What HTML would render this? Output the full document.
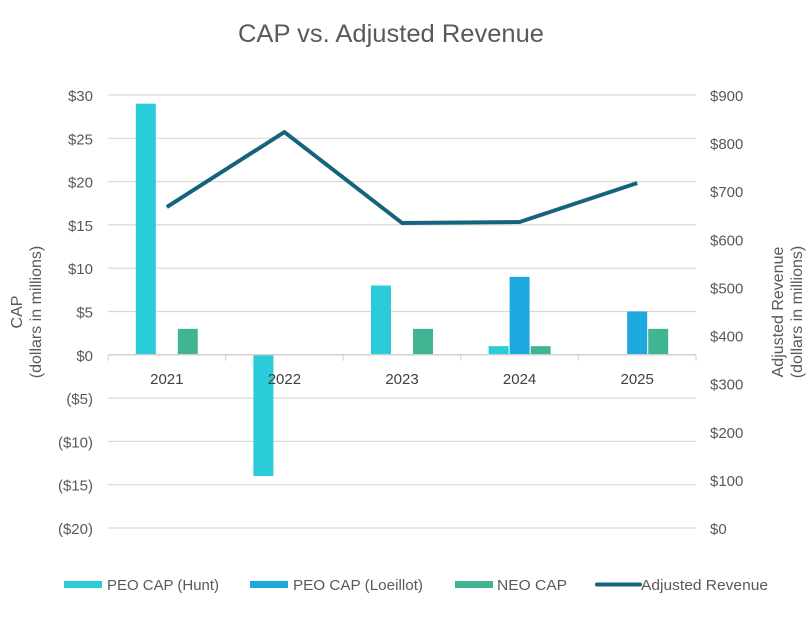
<!DOCTYPE html>
<html><head><meta charset="utf-8"><style>
body{margin:0;background:#fff;width:808px;height:621px;overflow:hidden;font-family:"Liberation Sans",sans-serif}
</style></head><body>
<svg id="chart" width="808" height="621" xmlns="http://www.w3.org/2000/svg" font-family="Liberation Sans, sans-serif">
<text x="391" y="42" text-anchor="middle" font-size="25" fill="#595959" textLength="306" lengthAdjust="spacingAndGlyphs">CAP vs. Adjusted Revenue</text>
<g id="grid"></g><g id="bars"></g><g id="line"></g><g id="axes"></g>
<text transform="translate(22,312) rotate(-90)" text-anchor="middle" font-size="16" fill="#595959"><tspan x="0" dy="0">CAP</tspan><tspan x="0" dy="19">(dollars in millions)</tspan></text>
<text transform="translate(783,312) rotate(-90)" text-anchor="middle" font-size="16" fill="#595959"><tspan x="0" dy="0">Adjusted Revenue</tspan><tspan x="0" dy="19">(dollars in millions)</tspan></text>
<g font-size="15" fill="#595959">
<rect x="64" y="581" width="38" height="7" fill="#29CCD8"/><text x="107" y="590" textLength="112" lengthAdjust="spacingAndGlyphs">PEO CAP (Hunt)</text>
<rect x="250" y="581" width="38" height="7" fill="#1DA8E0"/><text x="293" y="590" textLength="130" lengthAdjust="spacingAndGlyphs">PEO CAP (Loeillot)</text>
<rect x="455" y="581" width="38" height="7" fill="#41B593"/><text x="497" y="590" textLength="70" lengthAdjust="spacingAndGlyphs">NEO CAP</text>
<line x1="597" y1="584.5" x2="640" y2="584.5" stroke="#16637E" stroke-width="4" stroke-linecap="round"/><text x="641" y="590" textLength="127" lengthAdjust="spacingAndGlyphs">Adjusted Revenue</text>
</g>
</svg>
<script>
const categories=["2021","2022","2023","2024","2025"];
const huntCAP=[29,-14,8,1,null];
const loeillotCAP=[null,null,null,9,5];
const neoCAP=[3,null,3,1,3];
const revenue=[667,823,634,636,717];
const leftTicks=[30,25,20,15,10,5,0,-5,-10,-15,-20];
const rightTicks=[900,800,700,600,500,400,300,200,100,0];
const NS="http://www.w3.org/2000/svg";
const X0=108,X1=696,YT=95,YB=528;
const yL=v=>YT+(30-v)/50*(YB-YT);
const yR=v=>YB-v/900*(YB-YT);
const bw=(X1-X0)/categories.length;
const xc=i=>X0+bw*(i+0.5);
function mk(tag,attrs,parent){const e=document.createElementNS(NS,tag);for(const k in attrs)e.setAttribute(k,attrs[k]);document.getElementById(parent).appendChild(e);return e;}
leftTicks.forEach(t=>{
 const g=mk("line",{x1:X0,x2:X1,y1:yL(t),y2:yL(t),stroke:"#d9d9d9","stroke-width":1.2},"grid");
 
 
 const lab=mk("text",{x:93,y:yL(t)+6,"text-anchor":"end","font-size":"15",fill:"#595959"},"axes");
 lab.textContent=t<0?"($"+(-t)+")":"$"+t;
 
 
});
rightTicks.forEach(t=>{
 const lab=mk("text",{x:710,y:yR(t)+6,"font-size":"15",fill:"#595959"},"axes");
 lab.textContent="$"+t;
 
 
});
const z=yL(0);
const ax=mk("line",{x1:X0,x2:X1,y1:z,y2:z,stroke:"#d0d0d0","stroke-width":1.5},"axes");


for(let i=0;i<=categories.length;i++){
 const tk=mk("line",{x1:X0+bw*i,x2:X0+bw*i,y1:z,y2:z+6,stroke:"#d0d0d0","stroke-width":1},"axes");
 
 
}
categories.forEach((c,i)=>{
 const lab=mk("text",{x:xc(i),y:z+29,"text-anchor":"middle","font-size":"15",fill:"#404040"},"axes");
 lab.textContent=c;
 
 
});
const series=[[huntCAP,"#29CCD8",-31,"bar-hunt"],[loeillotCAP,"#1DA8E0",-10,"bar-loeillot"],[neoCAP,"#41B593",11,"bar-neo"]];
series.forEach(([arr,col,off,name])=>{
 arr.forEach((v,i)=>{
  if(v===null)return;
  const y1=Math.min(yL(v),z),h=Math.abs(yL(v)-z);
  const r=mk("rect",{x:xc(i)+off,y:y1,width:20,height:h,fill:col},"bars");
  
  
 });
});
const pts=revenue.map((v,i)=>xc(i)+","+yR(v)).join(" ");
const pl=mk("polyline",{points:pts,fill:"none",stroke:"#16637E","stroke-width":4,"stroke-linejoin":"round"},"line");


</script>
</body></html>
